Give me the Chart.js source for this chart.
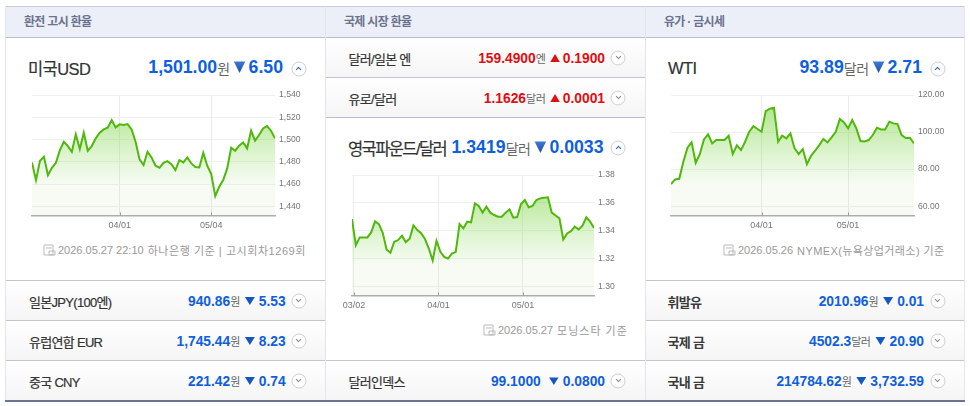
<!DOCTYPE html>
<html lang="ko">
<head>
<meta charset="utf-8">
<title>환율 시세</title>
<script src="https://cdn.jsdelivr.net/npm/chart.js@4"></script>
<style>
  html, body { margin: 0; padding: 0; background: #fff; }
  body { width: 970px; height: 406px; position: relative; overflow: hidden;
         font-family: "Liberation Sans", "Noto Sans CJK KR", sans-serif; color: #333; }
  .box { position: absolute; box-sizing: border-box; }
  .head { background: #eceff7; border-top: 1px solid #c9cbdd; border-bottom: 1px solid #b9bbd0;
          top: 6px; height: 32px; line-height: 30px; font-size: 12px; font-weight: bold; color: #6b7390; letter-spacing: -.7px; }
  .head span { position: absolute; top: 0; }
  .row { background: linear-gradient(#fff, #f5f5f5); border-top: 1px solid #c2c2d8; height: 40px; }
  .name { position: absolute; font-size: 13px; letter-spacing: -.7px; color: #333; -webkit-text-stroke: .2px #333; transform: translateY(-50%); white-space: nowrap; }
  .name.strong { font-weight: bold; -webkit-text-stroke: 0; color: #3a3a3a; }
  .nums { position: absolute; display: flex; align-items: center; transform: translateY(-50%); white-space: nowrap; font-weight: bold; }
  .nums .unit { font-weight: normal; color: #666; font-size: 11px; letter-spacing: -.5px; }
  .small { font-size: 13.8px; }
  .big { font-size: 17.7px; }
  .big .unit { font-size: 14px; }
  .blue { color: #0f5fe0; }
  .red { color: #e00d12; }
  .down, .up { display: inline-block; margin-left: 5px; margin-right: 4px; width: 10px; height: 8px; }
  .down { clip-path: polygon(0 0, 100% 0, 50% 100%); background: #1458c8; }
  .up { clip-path: polygon(50% 0, 100% 100%, 0 100%); background: #e00d12; width: 9.5px; margin-right: 3px; }
  .big .down { width: 12px; height: 12px; background: linear-gradient(#4078d0, #1c4ea8); margin-right: 3px; margin-left: 4px; }
  .cir { position: absolute; width: 15px; height: 15px; border: 1px solid #cfcfcf; border-radius: 50%; box-sizing: border-box; background: #fff; transform: translate(-50%, -50%); }
  .cir::after { content: ""; position: absolute; left: 4.5px; width: 3px; height: 3px; border-right: 1px solid #888; border-bottom: 1px solid #888; top: 3px; transform: rotate(45deg); }
  .cir.open::after { border-color: #2a5fb8; top: 5px; transform: rotate(-135deg); }
  .title { position: absolute; font-size: 16.5px; color: #333; letter-spacing: -1px; -webkit-text-stroke: .2px #333; transform: translateY(-50%); white-space: nowrap; }
  .note { position: absolute; display: flex; align-items: center; font-size: 11px; color: #999; transform: translateY(-50%); white-space: pre; }
  .note svg { margin-right: 2px; flex: none; }
  .note span { margin-left: 4px; letter-spacing: 1px; }
  canvas { position: absolute; }
  .line { position: absolute; background: #e4e4ee; width: 1px; top: 6px; height: 394px; }
</style>
</head>
<body>

<!-- 칼럼 헤더 -->
<div class="box head" style="left:5px;width:959px">
  <span style="left:19px">환전 고시 환율</span>
  <span style="left:339px">국제 시장 환율</span>
  <span style="left:659px">유가 · 금시세</span>
</div>

<!-- 왼쪽 하단 행 -->
<div class="box row" style="left:5px;width:320px;top:280px"></div>
<div class="box row" style="left:5px;width:320px;top:320px"></div>
<div class="box row" style="left:5px;width:320px;top:360px"></div>
<!-- 가운데 행 -->
<div class="box row" style="left:326px;width:319px;top:38px;border-top:0;height:39px"></div>
<div class="box row" style="left:326px;width:319px;top:77px"></div>
<div class="box" style="left:326px;width:319px;top:117px;border-top:1px solid #b9bbd0"></div>
<div class="box row" style="left:326px;width:319px;top:360px"></div>
<!-- 오른쪽 하단 행 -->
<div class="box row" style="left:646px;width:318px;top:280px"></div>
<div class="box row" style="left:646px;width:318px;top:320px"></div>
<div class="box row" style="left:646px;width:318px;top:360px"></div>

<div class="line" style="left:5px"></div>
<div class="line" style="left:325px"></div>
<div class="line" style="left:645px"></div>
<div class="line" style="left:964px"></div>
<div class="box" style="left:5px;width:960px;top:400px;height:2px;background:#6d7391"></div>

<!-- 왼쪽 패널 -->
<div class="title" style="left:28px;top:68px;letter-spacing:-.6px">미국USD</div>
<div class="nums big blue" style="right:687px;top:67px">1,501.00<span class="unit">원</span><i class="down"></i>6.50</div>
<div class="cir open" style="left:298.5px;top:69px"></div>
<canvas id="usdChart" width="290" height="140" style="left:20px;top:90px"></canvas>
<div class="note" style="left:43px;top:250px"><svg width="13" height="12" viewBox="0 0 13 12"><path d="M1 1h9v10H1zM3 4h6M6 7h6v4H6z" fill="none" stroke="#bbb"/></svg>2026.05.27 22:10<span style="letter-spacing:.55px">하나은행 기준 | 고시회차1269회</span></div>

<div class="name" style="left:29px;top:301px">일본JPY(100엔)</div>
<div class="nums small blue" style="right:684.3px;top:301px">940.86<span class="unit">원</span><i class="down"></i>5.53</div>
<div class="cir" style="left:298.5px;top:301px"></div>
<div class="name" style="left:29px;top:341px">유럽연합 EUR</div>
<div class="nums small blue" style="right:684.3px;top:341px">1,745.44<span class="unit">원</span><i class="down"></i>8.23</div>
<div class="cir" style="left:298.5px;top:341px"></div>
<div class="name" style="left:29px;top:381px">중국 CNY</div>
<div class="nums small blue" style="right:684.3px;top:381px">221.42<span class="unit">원</span><i class="down"></i>0.74</div>
<div class="cir" style="left:298.5px;top:381px"></div>

<!-- 가운데 패널 -->
<div class="name" style="left:348.5px;top:58px">달러/일본 엔</div>
<div class="nums small red" style="right:365px;top:58px">159.4900<span class="unit">엔</span><i class="up"></i>0.1900</div>
<div class="cir" style="left:618px;top:58px"></div>
<div class="name" style="left:348.5px;top:98px">유로/달러</div>
<div class="nums small red" style="right:365px;top:98px">1.1626<span class="unit">달러</span><i class="up"></i>0.0001</div>
<div class="cir" style="left:618px;top:98px"></div>
<div class="title" style="left:348px;top:148px;letter-spacing:-1.6px">영국파운드/달러</div>
<div class="nums big blue" style="right:366.5px;top:147px">1.3419<span class="unit">달러</span><i class="down"></i>0.0033</div>
<div class="cir open" style="left:618px;top:148px"></div>
<canvas id="gbpChart" width="289" height="140" style="left:340px;top:170px"></canvas>
<div class="note" style="left:483px;top:330px"><svg width="13" height="12" viewBox="0 0 13 12"><path d="M1 1h9v10H1zM3 4h6M6 7h6v4H6z" fill="none" stroke="#bbb"/></svg>2026.05.27<span>모닝스타 기준</span></div>
<div class="name" style="left:348.5px;top:381px">달러인덱스</div>
<div class="nums small blue" style="right:365px;top:381px">99.1000<span class="unit" style="width:3px"></span><i class="down"></i>0.0800</div>
<div class="cir" style="left:618px;top:381px"></div>

<!-- 오른쪽 패널 -->
<div class="title" style="left:668px;top:68px;letter-spacing:-.6px">WTI</div>
<div class="nums big blue" style="right:48px;top:67px">93.89<span class="unit">달러</span><i class="down"></i>2.71</div>
<div class="cir open" style="left:937.5px;top:69px"></div>
<canvas id="wtiChart" width="290" height="140" style="left:659px;top:90px"></canvas>
<div class="note" style="left:723px;top:250px"><svg width="13" height="12" viewBox="0 0 13 12"><path d="M1 1h9v10H1zM3 4h6M6 7h6v4H6z" fill="none" stroke="#bbb"/></svg>2026.05.26<span style="letter-spacing:.4px">NYMEX(뉴욕상업거래소) 기준</span></div>

<div class="name strong" style="left:667.5px;top:301px">휘발유</div>
<div class="nums small blue" style="right:46px;top:301px">2010.96<span class="unit">원</span><i class="down"></i>0.01</div>
<div class="cir" style="left:937.5px;top:301px"></div>
<div class="name strong" style="left:667.5px;top:341px">국제 금</div>
<div class="nums small blue" style="right:46px;top:341px">4502.3<span class="unit">달러</span><i class="down"></i>20.90</div>
<div class="cir" style="left:937.5px;top:341px"></div>
<div class="name strong" style="left:667.5px;top:381px">국내 금</div>
<div class="nums small blue" style="right:46px;top:381px">214784.62<span class="unit">원</span><i class="down"></i>3,732.59</div>
<div class="cir" style="left:937.5px;top:381px"></div>

<script>
// 미국 USD (원)
const usdDates = ['03/02','03/03','03/04','03/05','03/06','03/09','03/10','03/11','03/12','03/13','03/16','03/17','03/18','03/19','03/20','03/23','03/24','03/25','03/26','03/27','03/30','03/31','04/01','04/02','04/03','04/06','04/07','04/08','04/09','04/10','04/13','04/14','04/15','04/16','04/17','04/20','04/21','04/22','04/23','04/24','04/27','04/28','04/29','04/30','05/01','05/04','05/05','05/06','05/07','05/08','05/11','05/12','05/13','05/14','05/15','05/18','05/19','05/20','05/21','05/22','05/25','05/26'];
const usdValues = [1479.4,1463.5,1480.9,1484.5,1468.0,1474.6,1479.1,1490.5,1498.0,1494.1,1489.0,1504.6,1491.4,1506.1,1489.9,1494.1,1501.0,1506.1,1509.1,1510.6,1517.5,1510.9,1513.6,1513.0,1513.9,1509.1,1498.0,1482.1,1477.0,1489.0,1483.9,1476.4,1474.6,1479.1,1480.6,1477.9,1472.5,1481.5,1479.4,1483.9,1478.5,1475.2,1474.9,1488.1,1476.4,1468.9,1449.1,1457.5,1463.5,1474.0,1492.6,1489.9,1494.4,1497.4,1492.0,1507.9,1498.9,1504.0,1510.0,1512.1,1507.9,1501.0];
const usdYTicks = [1540,1520,1500,1480,1460,1440];
const usdXTicks = ['04/01','05/04'];

// 영국파운드/달러
const gbpDates = ['02/27','03/02','03/03','03/04','03/05','03/06','03/09','03/10','03/11','03/12','03/13','03/16','03/17','03/18','03/19','03/20','03/23','03/24','03/25','03/26','03/27','03/30','03/31','04/01','04/02','04/03','04/06','04/07','04/08','04/09','04/10','04/13','04/14','04/15','04/16','04/17','04/20','04/21','04/22','04/23','04/24','04/27','04/28','04/29','04/30','05/01','05/04','05/05','05/06','05/07','05/08','05/11','05/12','05/13','05/14','05/15','05/18','05/19','05/20','05/21','05/22','05/25','05/26','05/27'];
const gbpValues = [1.3483,1.3295,1.3351,1.3351,1.3351,1.3387,1.3466,1.3447,1.3384,1.3264,1.3240,1.3320,1.3332,1.3363,1.3317,1.3341,1.3437,1.3404,1.3382,1.3339,1.3271,1.3185,1.3327,1.3247,1.3211,1.3199,1.3235,1.3245,1.3447,1.3416,1.3464,1.3459,1.3596,1.3577,1.3529,1.3572,1.3529,1.3512,1.3500,1.3500,1.3529,1.3553,1.3493,1.3497,1.3591,1.3620,1.3567,1.3577,1.3620,1.3632,1.3637,1.3639,1.3529,1.3509,1.3488,1.3336,1.3380,1.3396,1.3428,1.3408,1.3435,1.3495,1.3464,1.3419];
const gbpYTicks = [1.38,1.36,1.34,1.32,1.30];
const gbpXTicks = ['03/02','04/01','05/01'];

// WTI (달러)
const wtiDates = ['03/02','03/03','03/04','03/05','03/06','03/09','03/10','03/11','03/12','03/13','03/16','03/17','03/18','03/19','03/20','03/23','03/24','03/25','03/26','03/27','03/30','03/31','04/01','04/02','04/06','04/07','04/08','04/09','04/10','04/13','04/14','04/15','04/16','04/17','04/20','04/21','04/22','04/23','04/24','04/27','04/28','04/29','04/30','05/01','05/04','05/05','05/06','05/07','05/08','05/11','05/12','05/13','05/14','05/15','05/18','05/19','05/20','05/21','05/22','05/26'];
const wtiValues = [71.89,74.41,74.77,83.96,91.53,94.41,83.42,88.11,96.04,98.74,93.87,95.68,95.68,95.68,98.02,88.11,92.79,90.27,94.77,100.18,103.24,101.62,100.18,111.35,112.61,113.15,94.77,98.02,96.58,99.28,91.17,88.11,90.81,82.70,87.21,89.91,92.97,96.22,94.41,97.12,100.18,107.03,105.23,101.98,106.49,101.98,95.14,94.95,95.68,98.38,102.34,101.44,101.44,105.59,104.68,104.32,98.38,96.76,96.94,93.89];
const wtiYTicks = [120,100,80,60];
const wtiXTicks = ['04/01','05/01'];

// 축 아래쪽의 짧은 눈금
const tickMarks = {
  id: 'tickMarks',
  afterDatasetsDraw(chart) {
    const ctx = chart.ctx, scale = chart.scales.x, bottom = chart.chartArea.bottom;
    ctx.save();
    ctx.strokeStyle = '#999';
    scale.ticks.forEach(function(t, i) {
      const px = Math.round(scale.getPixelForTick(i)) + 0.5;
      ctx.beginPath();
      ctx.moveTo(px, bottom - 3);
      ctx.lineTo(px, bottom);
      ctx.stroke();
    });
    ctx.restore();
  }
};

// 세 차트 공통 설정
function makeChart(id, dates, values, yTicks, yBottom, yLabel, xTicks, xShift) {
  const ctx = document.getElementById(id).getContext('2d');
  return new Chart(ctx, {
    type: 'line',
    data: {
      datasets: [{
        data: values.map(function(v, i) { return { x: i, y: v }; }),
        borderColor: '#50b80c',
        borderWidth: 2,
        pointRadius: 0,
        tension: 0,
        fill: 'start',
        backgroundColor: function(c) {
          const area = c.chart.chartArea;
          if (!area) return 'transparent';
          const g = c.chart.ctx.createLinearGradient(0, area.top, 0, area.bottom);
          g.addColorStop(0, 'rgba(110,205,50,0.62)');
          g.addColorStop(0.25, 'rgba(120,210,60,0.44)');
          g.addColorStop(0.55, 'rgba(130,215,80,0.22)');
          g.addColorStop(0.75, 'rgba(150,210,110,0.08)');
          g.addColorStop(1, 'rgba(150,190,110,0.07)');
          return g;
        }
      }]
    },
    options: {
      responsive: false,
      animation: false,
      layout: { padding: { top: 5, left: 12, right: 0, bottom: 0 } },
      plugins: { legend: { display: false }, tooltip: { enabled: false } },
      scales: {
        x: {
          type: 'linear',
          min: 0,
          max: values.length - 1,
          afterBuildTicks: function(s) {
            s.ticks = xTicks.map(function(t) { return { value: dates.indexOf(t) - xShift }; });
          },
          afterFit: function(s) { s.height = 14.5; s.paddingLeft = 0; s.paddingRight = 0; },
          grid: { color: '#ebebeb', drawTicks: false },
          border: { color: '#adadad', width: 1.5 },
          ticks: {
            autoSkip: false,
            maxRotation: 0,
            padding: 5,
            color: '#777',
            font: { family: '"Liberation Sans"', size: 9 },
            callback: function(value) { return dates[Math.round(value + xShift)]; }
          }
        },
        y: {
          position: 'right',
          min: yBottom,
          max: yTicks[0],
          afterBuildTicks: function(s) {
            s.ticks = yTicks.map(function(v) { return { value: v }; });
          },
          afterFit: function(s) { s.width = 35; s.paddingTop = 0; s.paddingBottom = 0; },
          grid: { color: '#f0f0f0', drawTicks: false },
          border: { display: false },
          ticks: {
            autoSkip: false,
            padding: 4,
            color: '#777',
            font: { family: '"Liberation Sans"', size: 8.6 },
            callback: yLabel
          }
        }
      }
    },
    plugins: [tickMarks]
  });
}

makeChart('usdChart', usdDates, usdValues, usdYTicks, 1431.7, function(v) { return v.toLocaleString('en-US'); }, usdXTicks, 0);
makeChart('gbpChart', gbpDates, gbpValues, gbpYTicks, 1.2933, function(v) { return v.toFixed(2); }, gbpXTicks, 0.5);
makeChart('wtiChart', wtiDates, wtiValues, wtiYTicks, 54.95, function(v) { return v.toFixed(2); }, wtiXTicks, 0);
</script>
</body>
</html>
